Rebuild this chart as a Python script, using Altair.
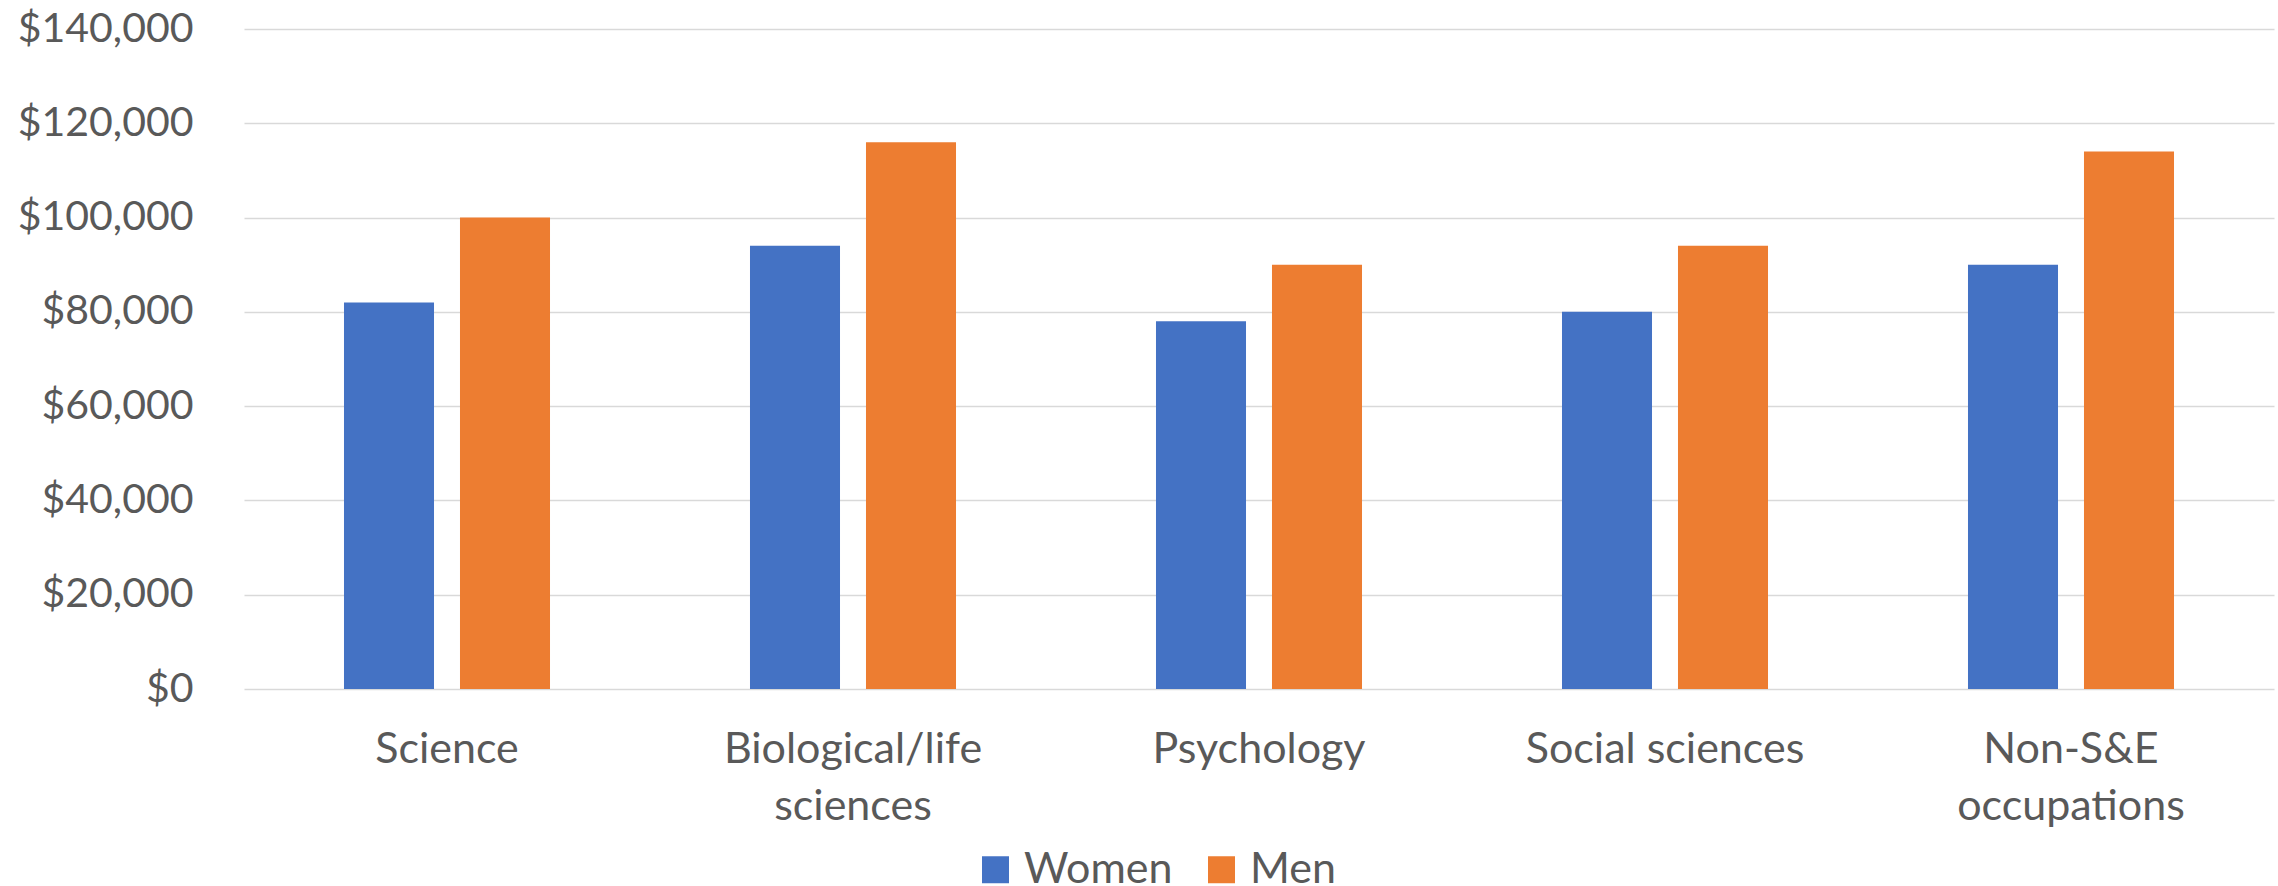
import altair as alt
import pandas as pd

# Median salaries by occupation field and sex
categories = ["Science", "Biological/life\nsciences", "Psychology", "Social sciences", "Non-S&E\noccupations"]
women = [82000, 94000, 78000, 80000, 90000]
men = [100000, 116000, 90000, 94000, 114000]
series = ["Women", "Men"]
colors = ["#4472C4", "#ED7D31"]
y_ticks = [0, 20000, 40000, 60000, 80000, 100000, 120000, 140000]

rows = []
for cat, w, m in zip(categories, women, men):
    rows.append({"field": cat, "group": "Women", "salary": w})
    rows.append({"field": cat, "group": "Men", "salary": m})
df = pd.DataFrame(rows)

FONT = "Lato"
TEXT = "#595959"
GRID = "#D9D9D9"

chart = (
    alt.Chart(df)
    .mark_bar()
    .encode(
        x=alt.X(
            "field:N",
            sort=categories,
            scale=alt.Scale(paddingInner=0, paddingOuter=0),
            axis=alt.Axis(
                title=None,
                labelExpr="split(datum.label, '\\n')",
                labelAngle=0,
                labelLimit=0,
                ticks=False,
                tickSize=0,
                domain=False,
                grid=False,
                labelPadding=39,
                labelFontSize=43,
                labelLineHeight=57,
                labelBaseline="top",
                labelColor=TEXT,
                labelFont=FONT,
            ),
        ),
        xOffset=alt.XOffset(
            "group:N",
            sort=series,
            scale=alt.Scale(domain=series, paddingInner=0.224, paddingOuter=0.862),
        ),
        y=alt.Y(
            "salary:Q",
            scale=alt.Scale(domain=[0, 140000], nice=False),
            axis=alt.Axis(
                title=None,
                values=y_ticks,
                format="$,.0f",
                ticks=False,
                tickSize=0,
                domain=False,
                grid=True,
                gridColor=GRID,
                gridWidth=1.5,
                labelLimit=0,
                labelPadding=51,
                labelFontSize=41,
                labelColor=TEXT,
                labelFont=FONT,
            ),
        ),
        color=alt.Color(
            "group:N",
            sort=series,
            scale=alt.Scale(domain=series, range=colors),
            legend=alt.Legend(
                title=None,
                orient="none",
                legendX=730,
                legendY=819,
                direction="horizontal",
                symbolType="square",
                symbolSize=729,
                symbolStrokeWidth=0,
                symbolOpacity=1,
                labelLimit=0,
                labelFontSize=43,
                labelColor=TEXT,
                labelFont=FONT,
                labelOffset=7,
                columnPadding=27,
                padding=0,
            ),
        ),
    )
    .properties(
        width=2030,
        height=660,
        padding={"left": 244, "top": 29, "right": 4, "bottom": 197},
        autosize=alt.AutoSizeParams(type="none"),
        view=alt.ViewBackground(stroke="transparent", strokeWidth=0),
    )
    .configure_view(stroke="transparent", strokeWidth=0)
    .configure_axisX(grid=False, domain=False)
    .configure(background="white")
)

chart.save("out.html", embed_options={"renderer": "svg", "actions": False})
